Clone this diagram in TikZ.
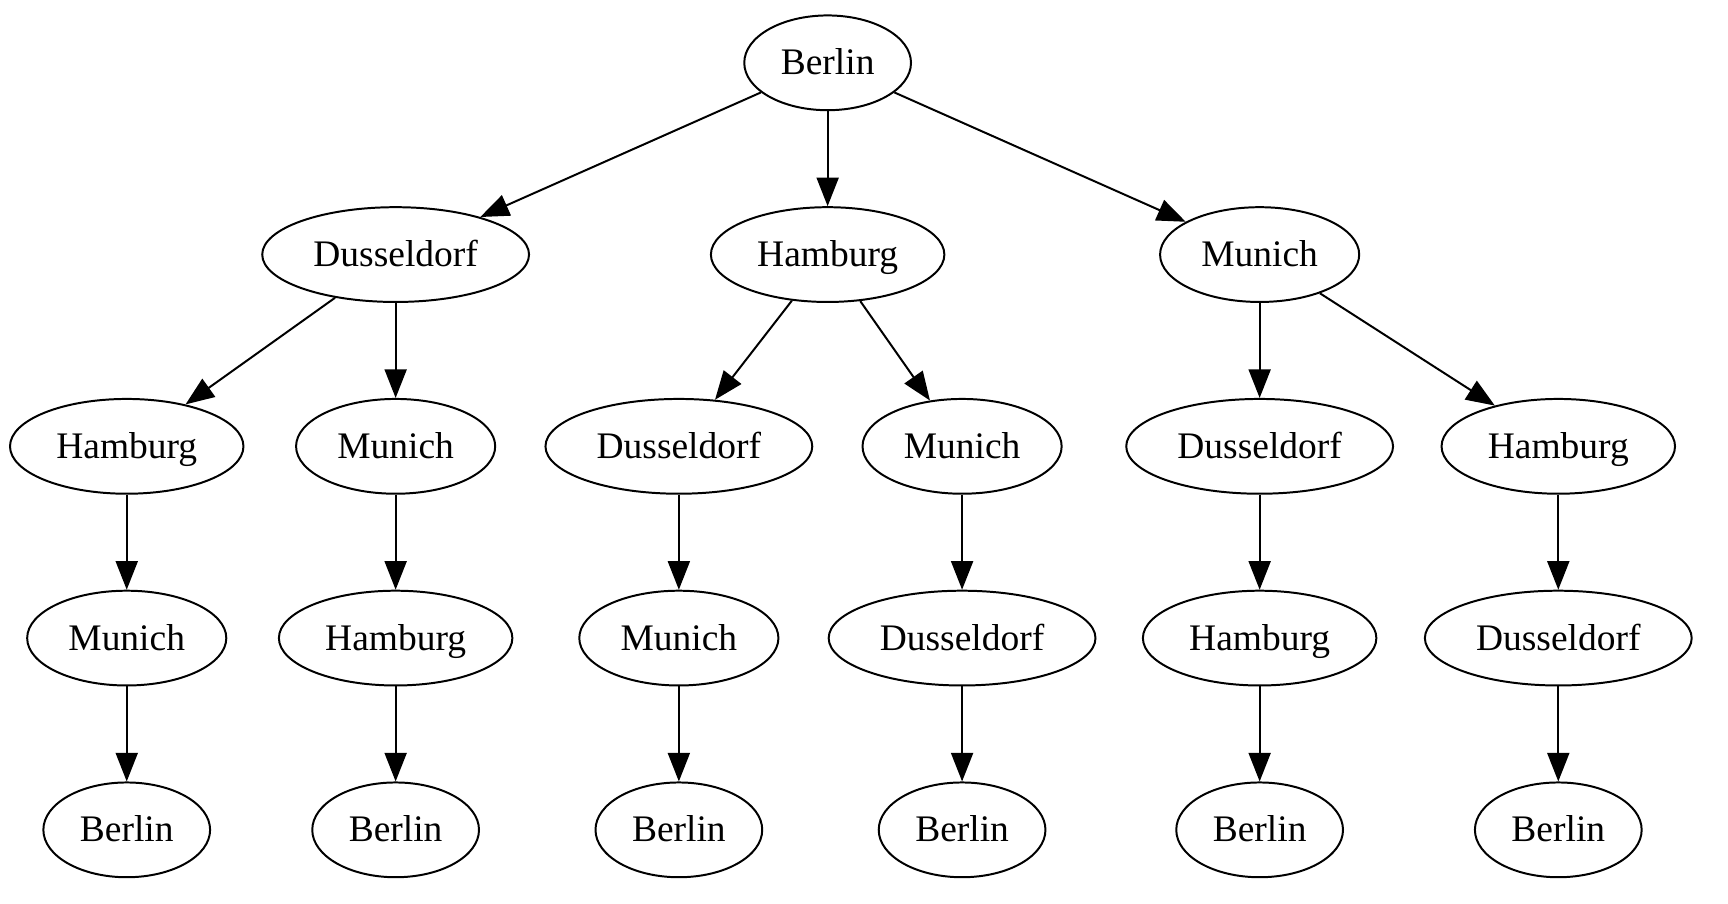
\documentclass[tikz,border=0pt]{standalone}
\usepackage{fontspec}
\setmainfont{Liberation Serif}
\usepackage{tikz}
\usetikzlibrary{arrows.meta,shapes.geometric}
\tikzset{
  >={Triangle[length=13pt,width=10pt]},
  city/.style={ellipse,draw,line width=0.9pt,inner xsep=5.5pt,inner ysep=0pt,
    minimum height=43pt,text height=1.3em,text depth=0.2em,
    font=\fontsize{17}{20}\selectfont},
  edge/.style={->,line width=0.9pt}
}
\begin{document}
\begin{tikzpicture}[x=0.5pt,y=-0.5pt]
  \useasboundingbox (0,0) rectangle (1568,820);
  % root
  \node[city] (root) at (751,57) {Berlin};
  % second row
  \node[city] (d) at (359,231) {Dusseldorf};
  \node[city] (h) at (751,231) {Hamburg};
  \node[city] (m) at (1143,231) {Munich};
  % third row
  \node[city] (dh) at (115,405) {Hamburg};
  \node[city] (dm) at (359,405) {Munich};
  \node[city] (hd) at (616,405) {Dusseldorf};
  \node[city] (hm) at (873,405) {Munich};
  \node[city] (md) at (1143,405) {Dusseldorf};
  \node[city] (mh) at (1414,405) {Hamburg};
  % fourth row
  \node[city] (dhm) at (115,579) {Munich};
  \node[city] (dmh) at (359,579) {Hamburg};
  \node[city] (hdm) at (616,579) {Munich};
  \node[city] (hmd) at (873,579) {Dusseldorf};
  \node[city] (mdh) at (1143,579) {Hamburg};
  \node[city] (mhd) at (1414,579) {Dusseldorf};
  % back to Berlin
  \node[city] (dhmb) at (115,753) {Berlin};
  \node[city] (dmhb) at (359,753) {Berlin};
  \node[city] (hdmb) at (616,753) {Berlin};
  \node[city] (hmdb) at (873,753) {Berlin};
  \node[city] (mdhb) at (1143,753) {Berlin};
  \node[city] (mhdb) at (1414,753) {Berlin};
  \draw[edge] (root)--(d); \draw[edge] (root)--(h); \draw[edge] (root)--(m);
  \draw[edge] (d)--(dh); \draw[edge] (d)--(dm);
  \draw[edge] (h)--(hd); \draw[edge] (h)--(hm);
  \draw[edge] (m)--(md); \draw[edge] (m)--(mh);
  \draw[edge] (dh)--(dhm); \draw[edge] (dm)--(dmh); \draw[edge] (hd)--(hdm);
  \draw[edge] (hm)--(hmd); \draw[edge] (md)--(mdh); \draw[edge] (mh)--(mhd);
  \draw[edge] (dhm)--(dhmb); \draw[edge] (dmh)--(dmhb); \draw[edge] (hdm)--(hdmb);
  \draw[edge] (hmd)--(hmdb); \draw[edge] (mdh)--(mdhb); \draw[edge] (mhd)--(mhdb);
\end{tikzpicture}
\end{document}
